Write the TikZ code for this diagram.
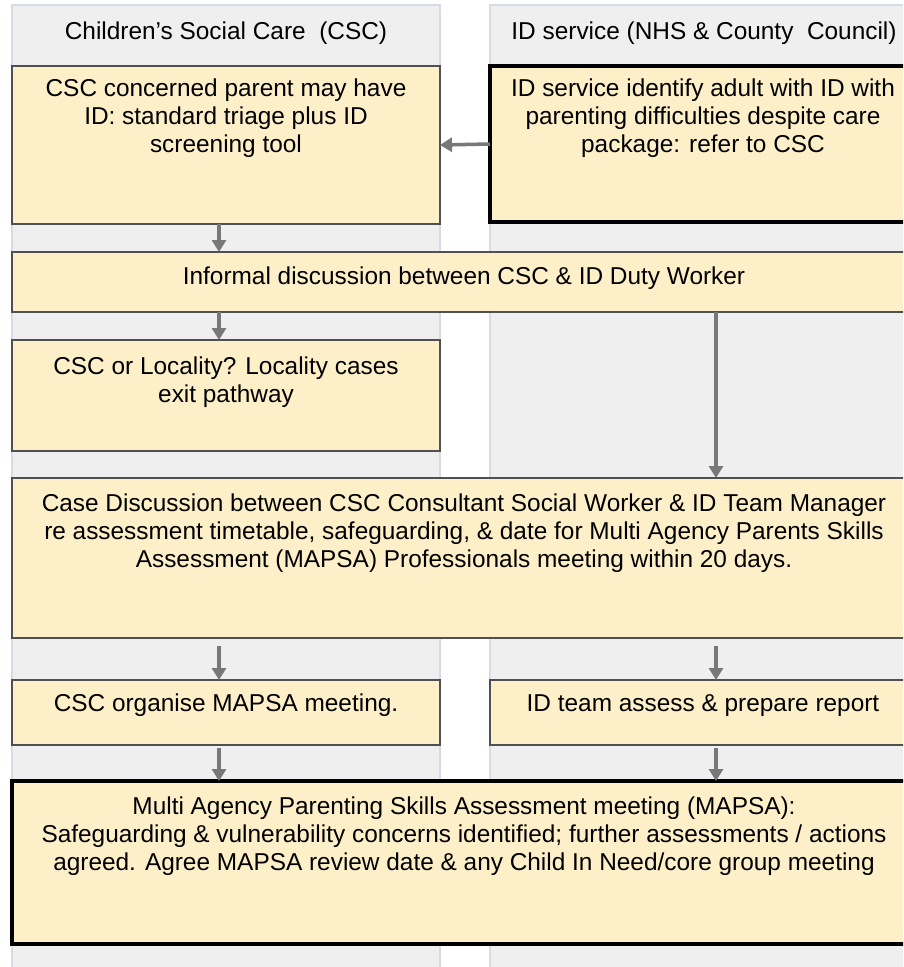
\documentclass[tikz,border=0pt]{standalone}
\usepackage{fontspec}
\setmainfont{Liberation Sans}
\usetikzlibrary{arrows.meta}
\definecolor{lanefill}{HTML}{EFEFF0}
\definecolor{laneline}{HTML}{D6DCE4}
\definecolor{boxfill}{HTML}{FDF0C9}
\definecolor{boxline}{HTML}{505050}
\definecolor{arrgray}{HTML}{787878}
\begin{document}
\begin{tikzpicture}[x=1pt,y=-1pt,
  lane/.style={fill=lanefill,draw=laneline,line width=2.5pt},
  box/.style={fill=boxfill,draw=boxline,line width=1.2pt,inner sep=0pt,outer sep=0pt},
  boldbox/.style={fill=boxfill,draw=black,line width=3.5pt,inner sep=0pt,outer sep=0pt},
  txt/.style={font=\fontsize{24.4}{28}\selectfont,align=center,inner sep=0pt,anchor=north},
  head/.style={font=\fontsize{24.4}{28}\selectfont,inner sep=0pt},
  arr/.style={draw=arrgray,line width=3.5pt,-{Triangle[length=12pt,width=14pt]}}]
\useasboundingbox (0,0) rectangle (903,967);
\clip (0,0) rectangle (903,967);
\fill[white] (0,0) rectangle (903,967);
% lanes
\draw[lane] (12,5) rectangle (440,990);
\draw[lane] (490,5) rectangle (940,990);
\node[head] (h1) at (226,33) {Children’s Social Care \ (CSC)};
\node[head] (h2) at (704,33) {ID service (NHS \& County \ Council)};
% boxes
\node[box,minimum width=428,minimum height=158] (b1) at (226,145) {};
\node[boldbox,minimum width=426,minimum height=156] (idb) at (703,144) {};
\node[box,minimum width=904,minimum height=60] (inf) at (464,282) {};
\node[box,minimum width=428,minimum height=111] (loc) at (226,395.5) {};
\node[box,minimum width=904,minimum height=160] (case) at (464,558) {};
\node[box,minimum width=428,minimum height=65] (org) at (226,712.5) {};
\node[box,minimum width=426,minimum height=65] (idt) at (703,712.5) {};
\node[boldbox,minimum width=904,minimum height=163] (fin) at (464,862.5) {};
% texts
\node[txt] (b1t) at ([yshift=-13]b1.north) {CSC concerned parent may have\\ID: standard triage plus ID\\screening tool};
\node[txt] (idbt) at ([yshift=-13]idb.north) {ID service identify adult with ID with\\parenting difficulties despite care\\package: refer to CSC};
\node[txt] (inft) at ([yshift=-15]inf.north) {Informal discussion between CSC \& ID Duty Worker};
\node[txt] (loct) at ([yshift=-17]loc.north) {CSC or Locality? Locality cases\\exit pathway};
\node[txt] (caset) at ([yshift=-16]case.north) {Case Discussion between CSC Consultant Social Worker \& ID Team Manager\\re assessment timetable, safeguarding, \& date for Multi Agency Parents Skills\\Assessment (MAPSA) Professionals meeting within 20 days.};
\node[txt] (orgt) at ([yshift=-14]org.north) {CSC organise MAPSA meeting.};
\node[txt] (idtt) at ([yshift=-14]idt.north) {ID team assess \& prepare report};
\node[txt] (fint) at ([yshift=-16]fin.north) {Multi Agency Parenting Skills Assessment meeting (MAPSA):\\Safeguarding \& vulnerability concerns identified; further assessments / actions\\agreed. Agree MAPSA review date \& any Child In Need/core group meeting};
% arrows
\coordinate (lx) at (219,0);
\coordinate (rx) at (716,0);
\draw[arr] (idb.west) -- (b1.east);
\draw[arr] (b1.south -| lx) -- (inf.north -| lx);
\draw[arr] (inf.south -| lx) -- (loc.north -| lx);
\draw[arr] (inf.south -| rx) -- (case.north -| rx);
\draw[arr,shorten <=8pt] (case.south -| lx) -- (org.north -| lx);
\draw[arr,shorten <=8pt] (case.south -| rx) -- (idt.north -| rx);
\draw[arr,shorten <=3pt] (org.south -| lx) -- (fin.north -| lx);
\draw[arr,shorten <=3pt] (idt.south -| rx) -- (fin.north -| rx);
\end{tikzpicture}
\end{document}
